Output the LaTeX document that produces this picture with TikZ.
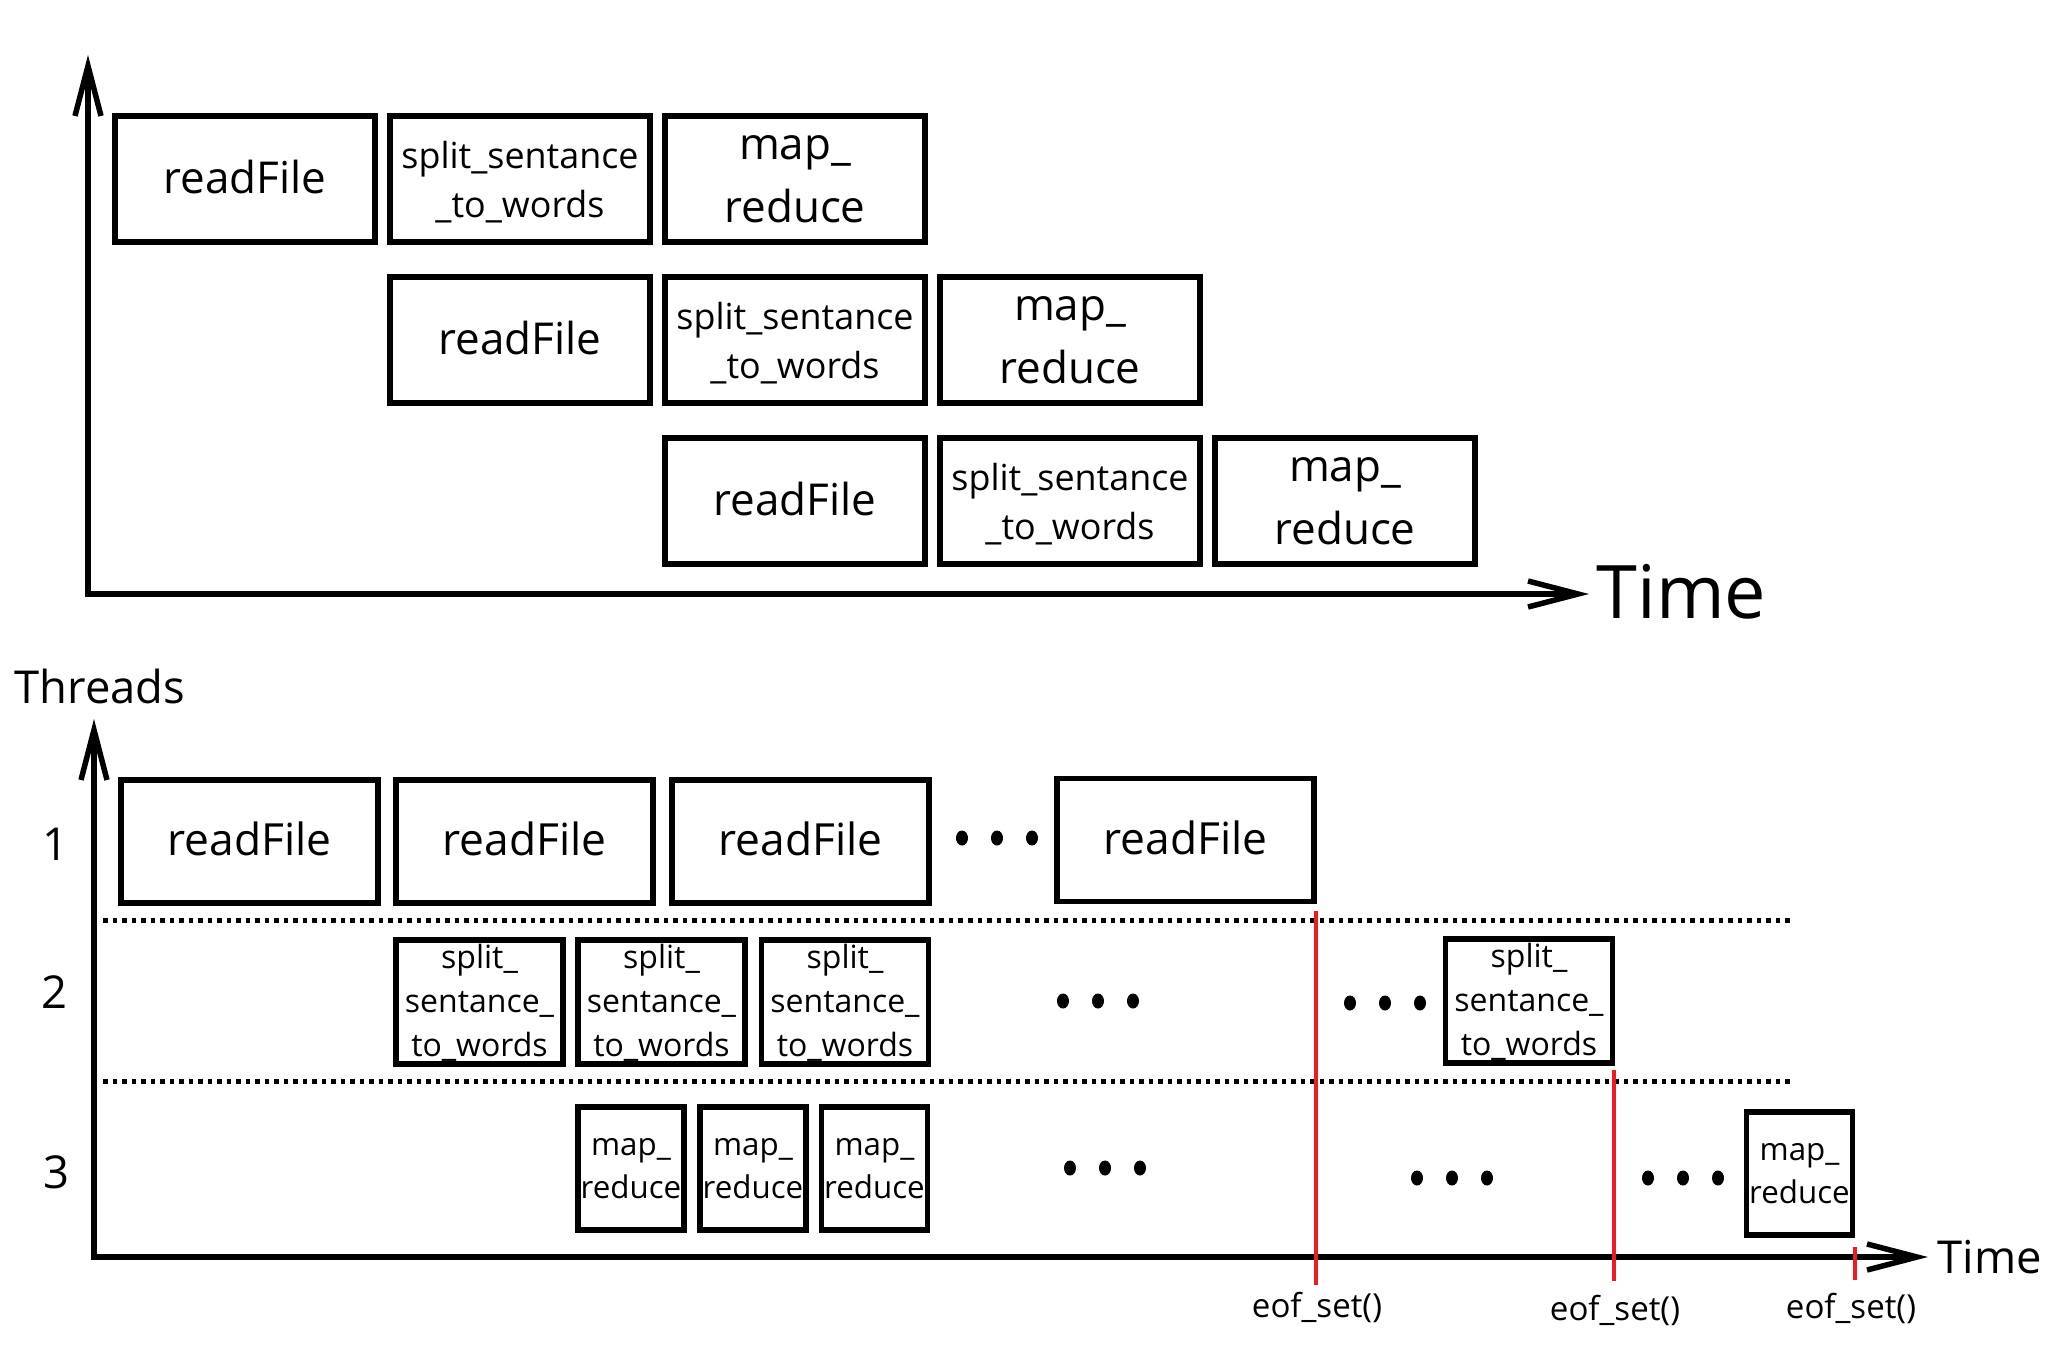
\documentclass[tikz,border=0pt]{standalone}
\usepackage{fontspec}
\setmainfont{Open Sans}
\usetikzlibrary{arrows.meta}
\definecolor{eofred}{RGB}{237,28,36}

\begin{document}
\begin{tikzpicture}[x=0.01cm, y=-0.01cm,
  axis/.style={line width=0.055cm, {Straight Barb[length=0.5cm, width=0.26cm]}-{Straight Barb[length=0.5cm, width=0.26cm]}},
  task/.style={draw, line width=0.055cm, inner sep=0pt, align=center},
  wide/.style={task, minimum width=2.6cm, minimum height=1.26cm, font=\fontsize{12.5pt}{18pt}\selectfont},
  twoline/.style={text depth=-4.5pt},
  oneline/.style={text depth=1.5pt},
  longname/.style={font=\fontsize{10.2pt}{13.9pt}\selectfont, text depth=0pt},
  readbox/.style={task, oneline, minimum width=2.57cm, minimum height=1.23cm, font=\fontsize{12.6pt}{17pt}\selectfont},
  splitbox/.style={task, minimum width=1.67cm, minimum height=1.24cm, font=\fontsize{9.1pt}{12.5pt}\selectfont, text depth=1pt},
  mapbox/.style={task, minimum width=1.06cm, minimum height=1.23cm, font=\fontsize{8.9pt}{12.2pt}\selectfont, text depth=-3pt},
  lane/.style={line width=0.05cm, dash pattern=on 0.045cm off 0.05cm},
  eof/.style={eofred, line width=0.045cm},
  eoflabel/.style={anchor=base, inner sep=0pt, font=\fontsize{9.4pt}{11pt}\selectfont},
  big/.style={inner sep=0pt, font=\fontsize{12.9pt}{15pt}\selectfont}
]
  \useasboundingbox (0,0) rectangle (2068,1366);

  % pipelined version
  \coordinate (y) at (88,55);
  \coordinate (x) at (1589,594);
  \draw[axis] (y) -- (88,594) -- (x);
  \node[anchor=base west, inner sep=0pt, font=\fontsize{21pt}{24pt}\selectfont] (timeA) at (1596,618) {Time};

  \node[wide, oneline] (readA) at (245,179) {readFile};
  \node[wide, longname] (splitA) at (520,179) {split\_sentance\\\_to\_words};
  \node[wide, twoline] (mapA) at (795,179) {map\_\\reduce};

  \node[wide, oneline] (readB) at (520,340) {readFile};
  \node[wide, longname] (splitB) at (795,340) {split\_sentance\\\_to\_words};
  \node[wide, twoline] (mapB) at (1070,340) {map\_\\reduce};

  \node[wide, oneline] (readC) at (795,501) {readFile};
  \node[wide, longname] (splitC) at (1070,501) {split\_sentance\\\_to\_words};
  \node[wide, twoline] (mapC) at (1345,501) {map\_\\reduce};

  % threads version
  \node[big, anchor=base west] (threads) at (14,703) {Threads};
  \coordinate (ty) at (94,719);
  \coordinate (tx) at (1928,1257);
  \draw[axis] (ty) -- (94,1257) -- (tx);
  \node[big, anchor=base west] (timeB) at (1937,1273) {Time};

  \node[big, anchor=base] (one) at (55,860) {1};
  \node[big, anchor=base] (two) at (54,1008) {2};
  \node[big, anchor=base] (three) at (56,1188) {3};

  \draw[lane] (103,920) -- (1790,920);
  \draw[lane] (103,1081) -- (1790,1081);

  \node[readbox] (rf1) at (249.5,841.5) {readFile};
  \node[readbox] (rf2) at (524.5,841.5) {readFile};
  \node[readbox] (rf3) at (800.5,841.5) {readFile};
  \node[readbox] (rfn) at (1185.5,840) {readFile};

  \node[splitbox] (sp1) at (479.5,1002) {split\_\\sentance\_\\to\_words};
  \node[splitbox] (sp2) at (661.5,1002) {split\_\\sentance\_\\to\_words};
  \node[splitbox] (sp3) at (845,1002) {split\_\\sentance\_\\to\_words};
  \node[splitbox] (spn) at (1529,1001) {split\_\\sentance\_\\to\_words};

  \node[mapbox] (mr1) at (631,1168.5) {map\_\\reduce};
  \node[mapbox] (mr2) at (753,1168.5) {map\_\\reduce};
  \node[mapbox] (mr3) at (874.5,1168.5) {map\_\\reduce};
  \node[mapbox] (mrn) at (1799.5,1173.5) {map\_\\reduce};

  \foreach \cx/\cy in {997/838, 1098/1001, 1385/1003, 1105/1168, 1452/1178, 1683/1178}
    \foreach \d in {-35,0,35}
      \fill (\cx+\d,\cy) ellipse [x radius=6, y radius=7.5];

  \path
    coordinate (eofAtop) at (1316,911)
    coordinate (eofAbot) at (1316,1285)
    coordinate (eofBtop) at (1614,1070)
    coordinate (eofBbot) at (1614,1281)
    coordinate (eofCtop) at (1855,1247)
    coordinate (eofCbot) at (1855,1280)
  ;
  \draw[eof] (eofAtop) -- (eofAbot);
  \draw[eof] (eofBtop) -- (eofBbot);
  \draw[eof] (eofCtop) -- (eofCbot);
  \node[eoflabel] (eofA) at (1317,1317) {eof\_set()};
  \node[eoflabel] (eofB) at (1615,1320) {eof\_set()};
  \node[eoflabel] (eofC) at (1851,1318) {eof\_set()};

\end{tikzpicture}
\end{document}
